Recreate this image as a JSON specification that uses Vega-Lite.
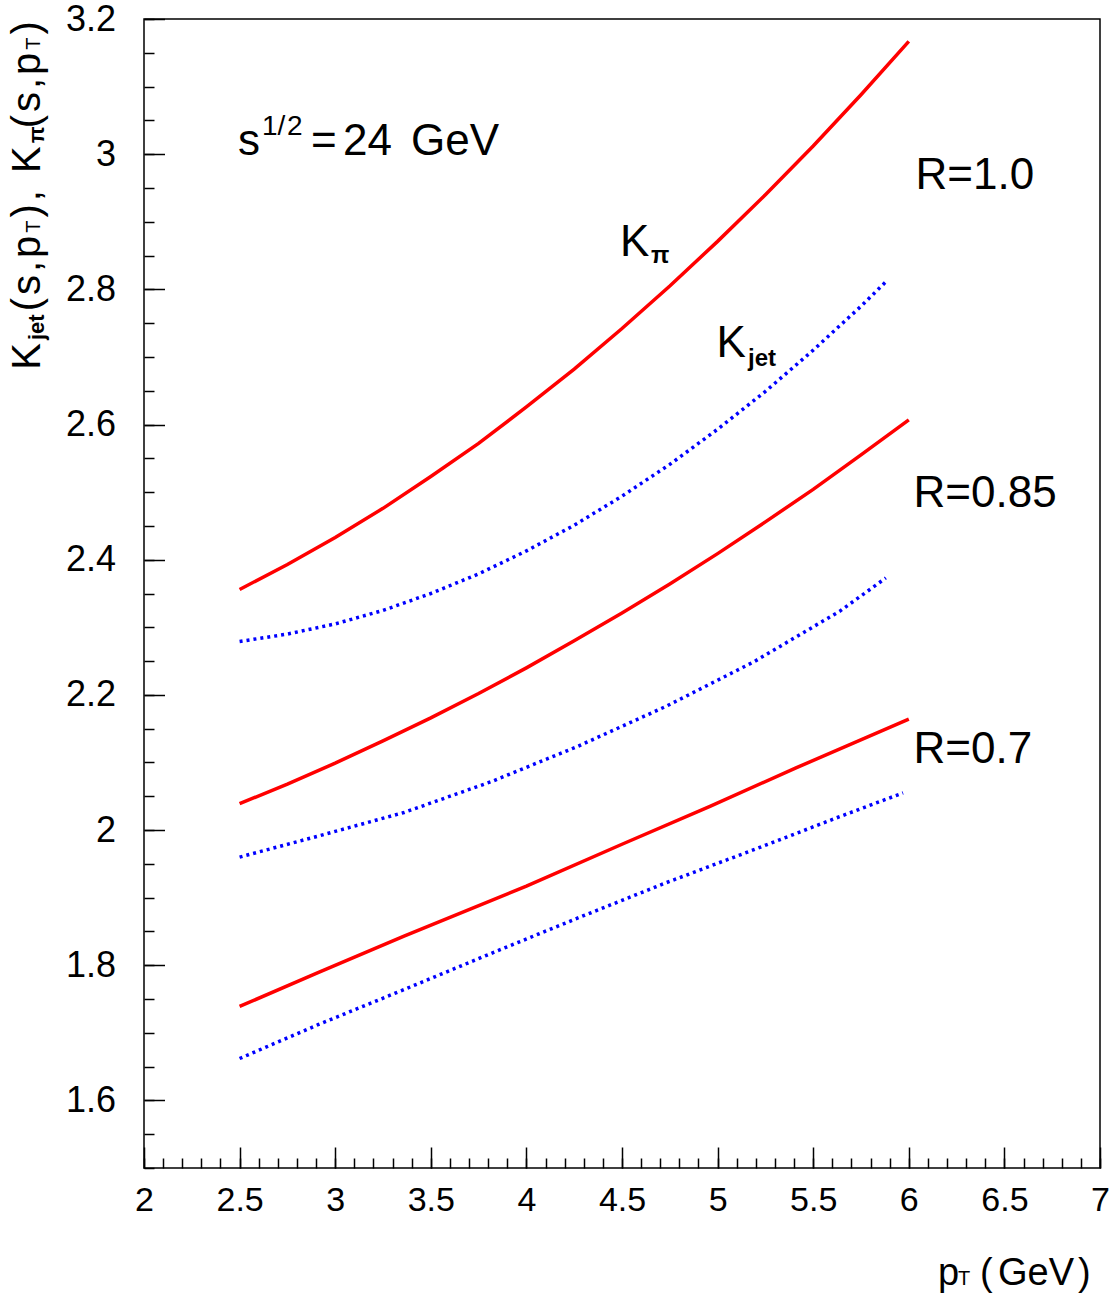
{
  "$schema": "https://vega.github.io/schema/vega-lite/v6.json",
  "width": 956,
  "height": 1149,
  "autosize": {"type": "none"},
  "padding": {"left": 144, "top": 19, "right": 10, "bottom": 132},
  "background": "white",
  "config": {"view": {"stroke": "#000", "strokeWidth": 1.5}},
  "datasets": {
    "curves": [
      {"pt": 2.5, "k": 2.356, "R": "1.0", "kind": "pi"},
      {"pt": 2.75, "k": 2.393, "R": "1.0", "kind": "pi"},
      {"pt": 3.0, "k": 2.433, "R": "1.0", "kind": "pi"},
      {"pt": 3.25, "k": 2.476, "R": "1.0", "kind": "pi"},
      {"pt": 3.5, "k": 2.523, "R": "1.0", "kind": "pi"},
      {"pt": 3.75, "k": 2.572, "R": "1.0", "kind": "pi"},
      {"pt": 4.0, "k": 2.626, "R": "1.0", "kind": "pi"},
      {"pt": 4.25, "k": 2.682, "R": "1.0", "kind": "pi"},
      {"pt": 4.5, "k": 2.742, "R": "1.0", "kind": "pi"},
      {"pt": 4.75, "k": 2.805, "R": "1.0", "kind": "pi"},
      {"pt": 5.0, "k": 2.871, "R": "1.0", "kind": "pi"},
      {"pt": 5.25, "k": 2.94, "R": "1.0", "kind": "pi"},
      {"pt": 5.5, "k": 3.012, "R": "1.0", "kind": "pi"},
      {"pt": 5.75, "k": 3.088, "R": "1.0", "kind": "pi"},
      {"pt": 6.0, "k": 3.167, "R": "1.0", "kind": "pi"},
      {"pt": 2.5, "k": 2.279, "R": "1.0", "kind": "jet"},
      {"pt": 2.75, "k": 2.29, "R": "1.0", "kind": "jet"},
      {"pt": 3.0, "k": 2.305, "R": "1.0", "kind": "jet"},
      {"pt": 3.25, "k": 2.325, "R": "1.0", "kind": "jet"},
      {"pt": 3.5, "k": 2.35, "R": "1.0", "kind": "jet"},
      {"pt": 3.75, "k": 2.379, "R": "1.0", "kind": "jet"},
      {"pt": 4.0, "k": 2.413, "R": "1.0", "kind": "jet"},
      {"pt": 4.25, "k": 2.451, "R": "1.0", "kind": "jet"},
      {"pt": 4.5, "k": 2.494, "R": "1.0", "kind": "jet"},
      {"pt": 4.75, "k": 2.541, "R": "1.0", "kind": "jet"},
      {"pt": 5.0, "k": 2.593, "R": "1.0", "kind": "jet"},
      {"pt": 5.25, "k": 2.649, "R": "1.0", "kind": "jet"},
      {"pt": 5.5, "k": 2.71, "R": "1.0", "kind": "jet"},
      {"pt": 5.75, "k": 2.775, "R": "1.0", "kind": "jet"},
      {"pt": 5.89, "k": 2.814, "R": "1.0", "kind": "jet"},
      {"pt": 2.5, "k": 2.039, "R": "0.85", "kind": "pi"},
      {"pt": 2.75, "k": 2.068, "R": "0.85", "kind": "pi"},
      {"pt": 3.0, "k": 2.099, "R": "0.85", "kind": "pi"},
      {"pt": 3.25, "k": 2.132, "R": "0.85", "kind": "pi"},
      {"pt": 3.5, "k": 2.166, "R": "0.85", "kind": "pi"},
      {"pt": 3.75, "k": 2.202, "R": "0.85", "kind": "pi"},
      {"pt": 4.0, "k": 2.24, "R": "0.85", "kind": "pi"},
      {"pt": 4.25, "k": 2.28, "R": "0.85", "kind": "pi"},
      {"pt": 4.5, "k": 2.321, "R": "0.85", "kind": "pi"},
      {"pt": 4.75, "k": 2.364, "R": "0.85", "kind": "pi"},
      {"pt": 5.0, "k": 2.409, "R": "0.85", "kind": "pi"},
      {"pt": 5.25, "k": 2.456, "R": "0.85", "kind": "pi"},
      {"pt": 5.5, "k": 2.504, "R": "0.85", "kind": "pi"},
      {"pt": 5.75, "k": 2.555, "R": "0.85", "kind": "pi"},
      {"pt": 6.0, "k": 2.607, "R": "0.85", "kind": "pi"},
      {"pt": 2.5, "k": 1.96, "R": "0.85", "kind": "jet"},
      {"pt": 2.91, "k": 1.991, "R": "0.85", "kind": "jet"},
      {"pt": 3.36, "k": 2.026, "R": "0.85", "kind": "jet"},
      {"pt": 3.82, "k": 2.072, "R": "0.85", "kind": "jet"},
      {"pt": 4.27, "k": 2.124, "R": "0.85", "kind": "jet"},
      {"pt": 4.73, "k": 2.183, "R": "0.85", "kind": "jet"},
      {"pt": 5.19, "k": 2.249, "R": "0.85", "kind": "jet"},
      {"pt": 5.64, "k": 2.324, "R": "0.85", "kind": "jet"},
      {"pt": 5.88, "k": 2.373, "R": "0.85", "kind": "jet"},
      {"pt": 2.5, "k": 1.739, "R": "0.7", "kind": "pi"},
      {"pt": 2.91, "k": 1.789, "R": "0.7", "kind": "pi"},
      {"pt": 3.36, "k": 1.843, "R": "0.7", "kind": "pi"},
      {"pt": 4.0, "k": 1.917, "R": "0.7", "kind": "pi"},
      {"pt": 4.5, "k": 1.979, "R": "0.7", "kind": "pi"},
      {"pt": 4.96, "k": 2.035, "R": "0.7", "kind": "pi"},
      {"pt": 5.41, "k": 2.092, "R": "0.7", "kind": "pi"},
      {"pt": 6.0, "k": 2.164, "R": "0.7", "kind": "pi"},
      {"pt": 2.5, "k": 1.662, "R": "0.7", "kind": "jet"},
      {"pt": 2.91, "k": 1.712, "R": "0.7", "kind": "jet"},
      {"pt": 3.36, "k": 1.764, "R": "0.7", "kind": "jet"},
      {"pt": 3.82, "k": 1.818, "R": "0.7", "kind": "jet"},
      {"pt": 4.27, "k": 1.87, "R": "0.7", "kind": "jet"},
      {"pt": 4.73, "k": 1.922, "R": "0.7", "kind": "jet"},
      {"pt": 5.19, "k": 1.971, "R": "0.7", "kind": "jet"},
      {"pt": 5.64, "k": 2.02, "R": "0.7", "kind": "jet"},
      {"pt": 5.97, "k": 2.055, "R": "0.7", "kind": "jet"}
    ],
    "annot": [
      {"x": 2.4916, "y": 2.999, "text": "s"},
      {"x": 2.8734, "y": 2.999, "text": "="},
      {"x": 3.0408, "y": 2.999, "text": "24"},
      {"x": 3.3964, "y": 2.999, "text": "GeV"},
      {"x": 4.4895, "y": 2.8497, "text": "K"},
      {"x": 4.9942, "y": 2.7003, "text": "K"},
      {"x": 6.035, "y": 2.949, "text": "R=1.0"},
      {"x": 6.0246, "y": 2.4784, "text": "R=0.85"},
      {"x": 6.0246, "y": 2.0996, "text": "R=0.7"}
    ],
    "annot_sub": [
      {"x": 4.6517, "y": 2.8394, "text": "π"},
      {"x": 5.159, "y": 2.687, "text": "jet"}
    ],
    "annot_sup": [
      {"x": 2.617, "y": 3.029, "text": "1/"},
      {"x": 2.748, "y": 3.029, "text": "2"}
    ],
    "ytitle": [
      {"x": 1.4561, "y": 2.6811, "text": "K"},
      {"x": 1.4561, "y": 2.7675, "text": "("},
      {"x": 1.4561, "y": 2.7916, "text": "s"},
      {"x": 1.4561, "y": 2.8256, "text": ","},
      {"x": 1.4561, "y": 2.8465, "text": "p"},
      {"x": 1.4561, "y": 2.9063, "text": ")"},
      {"x": 1.4561, "y": 2.9304, "text": ","},
      {"x": 1.4561, "y": 2.9721, "text": "K"},
      {"x": 1.4561, "y": 3.0382, "text": "("},
      {"x": 1.4561, "y": 3.0624, "text": "s"},
      {"x": 1.4561, "y": 3.0964, "text": ","},
      {"x": 1.4561, "y": 3.1172, "text": "p"},
      {"x": 1.4561, "y": 3.177, "text": ")"}
    ],
    "ytitle_sub": [
      {"x": 1.477, "y": 2.725, "text": "jet"},
      {"x": 1.477, "y": 3.016, "text": "π"}
    ],
    "ytitle_T": [
      {"x": 1.4561, "y": 2.8838, "text": "T"},
      {"x": 1.4561, "y": 3.1545, "text": "T"}
    ],
    "xtitle": [
      {"x": 6.1527, "y": 1.3273, "text": "p"},
      {"x": 6.3724, "y": 1.3273, "text": "("},
      {"x": 6.4665, "y": 1.3273, "text": "GeV"},
      {"x": 6.885, "y": 1.3273, "text": ")"}
    ],
    "xtitle_T": [
      {"x": 6.2573, "y": 1.3273, "text": "T"}
    ]
  },
  "layer": [
    {
      "data": {"name": "curves"},
      "transform": [{"filter": "datum.kind === 'pi'"}],
      "mark": {"type": "line", "color": "#ff0000", "strokeWidth": 3.5},
      "encoding": {
        "x": {
          "field": "pt", "type": "quantitative",
          "scale": {"domain": [2, 7], "nice": false, "zero": false},
          "axis": {
            "orient": "bottom", "values": [2, 2.5, 3, 3.5, 4, 4.5, 5, 5.5, 6, 6.5, 7],
            "format": "~g", "tickSize": -21, "tickWidth": 1.5, "tickColor": "#000",
            "domain": false, "grid": false, "title": null,
            "labelFont": "Liberation Sans", "labelFontSize": 34, "labelColor": "#000",
            "labelPadding": 36, "labelFlush": false, "labelOverlap": false
          }
        },
        "y": {
          "field": "k", "type": "quantitative",
          "scale": {"domain": [1.5, 3.2], "nice": false, "zero": false},
          "axis": {
            "orient": "left", "values": [1.6, 1.8, 2, 2.2, 2.4, 2.6, 2.8, 3, 3.2],
            "format": "~g", "tickSize": -20.5, "tickWidth": 1.5, "tickColor": "#000",
            "domain": false, "grid": false, "title": null,
            "labelFont": "Liberation Sans", "labelFontSize": 36, "labelColor": "#000",
            "labelPadding": 49, "labelFlush": false, "labelOverlap": false
          }
        },
        "detail": {"field": "R", "type": "nominal"}
      }
    },
    {
      "data": {"name": "curves"},
      "transform": [{"filter": "datum.kind === 'jet'"}],
      "mark": {"type": "line", "color": "#0000ff", "strokeWidth": 3.5, "strokeDash": [3, 4]},
      "encoding": {
        "x": {
          "field": "pt", "type": "quantitative",
          "scale": {"domain": [2, 7], "nice": false, "zero": false},
          "axis": {
            "orient": "bottom",
            "values": [2, 2.1, 2.2, 2.3, 2.4, 2.5, 2.6, 2.7, 2.8, 2.9, 3, 3.1, 3.2, 3.3, 3.4, 3.5, 3.6, 3.7, 3.8, 3.9, 4, 4.1, 4.2, 4.3, 4.4, 4.5, 4.6, 4.7, 4.8, 4.9, 5, 5.1, 5.2, 5.3, 5.4, 5.5, 5.6, 5.7, 5.8, 5.9, 6, 6.1, 6.2, 6.3, 6.4, 6.5, 6.6, 6.7, 6.8, 6.9, 7],
            "tickSize": -10, "tickWidth": 1.5, "tickColor": "#000",
            "domain": false, "grid": false, "title": null, "labels": false
          }
        },
        "y": {
          "field": "k", "type": "quantitative",
          "scale": {"domain": [1.5, 3.2], "nice": false, "zero": false},
          "axis": {
            "orient": "left",
            "values": [1.5, 1.55, 1.6, 1.65, 1.7, 1.75, 1.8, 1.85, 1.9, 1.95, 2, 2.05, 2.1, 2.15, 2.2, 2.25, 2.3, 2.35, 2.4, 2.45, 2.5, 2.55, 2.6, 2.65, 2.7, 2.75, 2.8, 2.85, 2.9, 2.95, 3, 3.05, 3.1, 3.15, 3.2],
            "tickSize": -10, "tickWidth": 1.5, "tickColor": "#000",
            "domain": false, "grid": false, "title": null, "labels": false
          }
        },
        "detail": {"field": "R", "type": "nominal"}
      }
    },
    {
      "data": {"name": "annot"},
      "mark": {"type": "text", "font": "Liberation Sans", "fontSize": 44, "align": "left", "baseline": "alphabetic", "color": "#000"},
      "encoding": {
        "x": {"field": "x", "type": "quantitative", "scale": {"domain": [2, 7], "nice": false, "zero": false}, "axis": null},
        "y": {"field": "y", "type": "quantitative", "scale": {"domain": [1.5, 3.2], "nice": false, "zero": false}, "axis": null},
        "text": {"field": "text"}
      }
    },
    {
      "data": {"name": "annot_sub"},
      "mark": {"type": "text", "font": "Liberation Sans", "fontSize": 24, "fontWeight": "bold", "align": "left", "baseline": "alphabetic", "color": "#000"},
      "encoding": {
        "x": {"field": "x", "type": "quantitative", "scale": {"domain": [2, 7], "nice": false, "zero": false}, "axis": null},
        "y": {"field": "y", "type": "quantitative", "scale": {"domain": [1.5, 3.2], "nice": false, "zero": false}, "axis": null},
        "text": {"field": "text"}
      }
    },
    {
      "data": {"name": "annot_sup"},
      "mark": {"type": "text", "font": "Liberation Sans", "fontSize": 28, "align": "left", "baseline": "alphabetic", "color": "#000"},
      "encoding": {
        "x": {"field": "x", "type": "quantitative", "scale": {"domain": [2, 7], "nice": false, "zero": false}, "axis": null},
        "y": {"field": "y", "type": "quantitative", "scale": {"domain": [1.5, 3.2], "nice": false, "zero": false}, "axis": null},
        "text": {"field": "text"}
      }
    },
    {
      "data": {"name": "ytitle"},
      "mark": {"type": "text", "font": "Liberation Sans", "fontSize": 40, "angle": 270, "align": "left", "baseline": "alphabetic", "color": "#000"},
      "encoding": {
        "x": {"field": "x", "type": "quantitative", "scale": {"domain": [2, 7], "nice": false, "zero": false}, "axis": null},
        "y": {"field": "y", "type": "quantitative", "scale": {"domain": [1.5, 3.2], "nice": false, "zero": false}, "axis": null},
        "text": {"field": "text"}
      }
    },
    {
      "data": {"name": "ytitle_sub"},
      "mark": {"type": "text", "font": "Liberation Sans", "fontSize": 22, "fontWeight": "bold", "angle": 270, "align": "left", "baseline": "alphabetic", "color": "#000"},
      "encoding": {
        "x": {"field": "x", "type": "quantitative", "scale": {"domain": [2, 7], "nice": false, "zero": false}, "axis": null},
        "y": {"field": "y", "type": "quantitative", "scale": {"domain": [1.5, 3.2], "nice": false, "zero": false}, "axis": null},
        "text": {"field": "text"}
      }
    },
    {
      "data": {"name": "ytitle_T"},
      "mark": {"type": "text", "font": "Liberation Sans", "fontSize": 20, "angle": 270, "align": "left", "baseline": "alphabetic", "color": "#000"},
      "encoding": {
        "x": {"field": "x", "type": "quantitative", "scale": {"domain": [2, 7], "nice": false, "zero": false}, "axis": null},
        "y": {"field": "y", "type": "quantitative", "scale": {"domain": [1.5, 3.2], "nice": false, "zero": false}, "axis": null},
        "text": {"field": "text"}
      }
    },
    {
      "data": {"name": "xtitle"},
      "mark": {"type": "text", "font": "Liberation Sans", "fontSize": 38, "align": "left", "baseline": "alphabetic", "color": "#000"},
      "encoding": {
        "x": {"field": "x", "type": "quantitative", "scale": {"domain": [2, 7], "nice": false, "zero": false}, "axis": null},
        "y": {"field": "y", "type": "quantitative", "scale": {"domain": [1.5, 3.2], "nice": false, "zero": false}, "axis": null},
        "text": {"field": "text"}
      }
    },
    {
      "data": {"name": "xtitle_T"},
      "mark": {"type": "text", "font": "Liberation Sans", "fontSize": 20, "align": "left", "baseline": "alphabetic", "color": "#000"},
      "encoding": {
        "x": {"field": "x", "type": "quantitative", "scale": {"domain": [2, 7], "nice": false, "zero": false}, "axis": null},
        "y": {"field": "y", "type": "quantitative", "scale": {"domain": [1.5, 3.2], "nice": false, "zero": false}, "axis": null},
        "text": {"field": "text"}
      }
    }
  ],
  "resolve": {"axis": {"x": "independent", "y": "independent"}}
}
